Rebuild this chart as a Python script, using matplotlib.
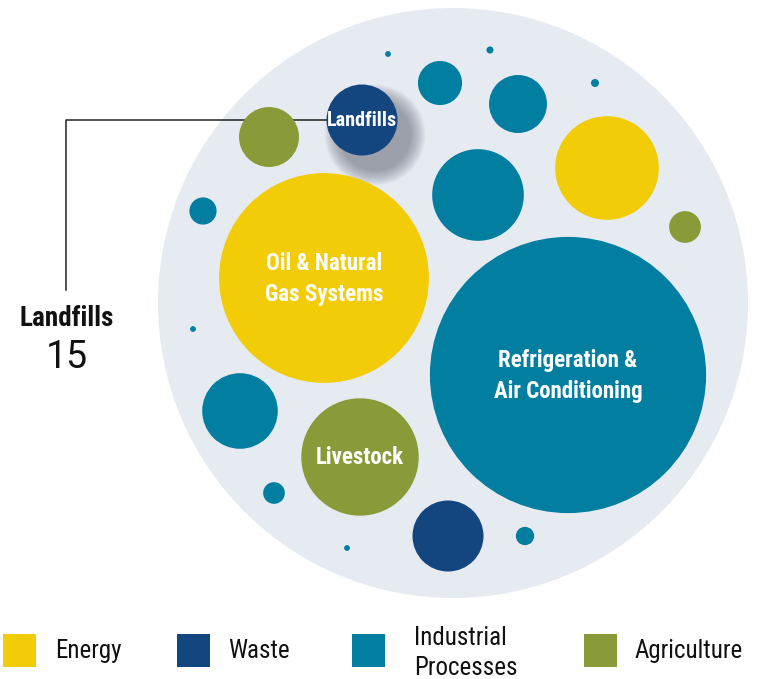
import matplotlib
matplotlib.use("Agg")
import matplotlib.pyplot as plt
from matplotlib.patches import Circle, Rectangle
from matplotlib import font_manager
import numpy as np

# ---------------- data ----------------
sectors = ["Energy", "Waste", "Industrial\nProcesses", "Agriculture"]
sector_colors = ["#F2CD07", "#13467F", "#027EA1", "#899A38"]

# each bubble: sector index, value (MtCO2e-like), label
bubble_sector = [2, 2, 2, 2, 2, 1, 3, 0, 2, 2, 3, 0, 2, 2, 2, 3, 2, 1, 2, 2]
bubble_value = [0.1, 0.15, 5.8, 10, 0.19, 15, 10.7, 32, 25, 2.2, 3.0,
                131, 0.1, 227, 17, 41, 1.4, 15, 1.0, 0.1]
bubble_label = ["", "", "", "", "", "Landfills", "", "", "", "", "",
                "Oil & Natural\nGas Systems", "", "Refrigeration &\nAir Conditioning",
                "", "Livestock", "", "", "", ""]
highlight_name = "Landfills"
highlight_value = 15

# layout (packing positions of bubble centres, pixels)
cx = [388, 490, 440, 518, 595, 362, 269, 607, 478, 203, 685, 324, 193, 568, 240, 360, 274, 448, 525, 347]
cy = [54, 50, 83, 104, 83, 120, 137, 168, 195, 211, 227, 278, 329, 375, 411, 457, 493, 536, 536, 548]

# ---------------- font ----------------
avail = {f.name for f in font_manager.fontManager.ttflist}
cond = None
for cand in ["Liberation Sans Narrow", "Roboto Condensed", "Open Sans Condensed", "Noto Sans"]:
    if cand in avail:
        cond = cand
        break
if cond is None:
    cond = "DejaVu Sans"
plt.rcParams["font.family"] = [cond, "DejaVu Sans"]
light_font = "Roboto" if "Roboto" in avail else "DejaVu Sans"

W, H = 759, 679
fig = plt.figure(figsize=(W / 100, H / 100), dpi=100)
ax = fig.add_axes([0, 0, 1, 1])
ax.set_xlim(0, W)
ax.set_ylim(H, 0)
ax.set_aspect("equal")
ax.axis("off")

# background circle
ax.add_patch(Circle((453, 303), 295, facecolor="#E6EBF2", edgecolor="none", zorder=0))

REF_R = 35.5  # radius of value-15 bubble
def radius(v):
    return REF_R * np.sqrt(v / 15.0)

# callout line
hi = bubble_label.index(highlight_name)
hr = radius(bubble_value[hi])
ax.plot([cx[hi] - hr, 66, 66], [cy[hi], cy[hi], 290], color="#222222", lw=1.1, zorder=1)

# soft drop shadow for highlighted bubble (offset to lower right)
for k in range(16):
    rr = hr + k * 1.0
    ax.add_patch(Circle((cx[hi] + 13, cy[hi] + 15), rr, facecolor="#5d6270",
                        edgecolor="none", alpha=0.045, zorder=1.5))

for i, (s, v, lab) in enumerate(zip(bubble_sector, bubble_value, bubble_label)):
    r = radius(v)
    ax.add_patch(Circle((cx[i], cy[i]), r, facecolor=sector_colors[s], edgecolor="none",
                        zorder=3 if i == hi else 2))
    if lab:
        fs = 14.5 if i == hi else 16.5
        ax.text(cx[i], cy[i] + 1, lab, ha="center", va="center", color="white",
                fontsize=fs, fontweight="bold", linespacing=1.4, zorder=4)

ax.text(67, 318, highlight_name, ha="center", va="center", fontsize=19.5,
        fontweight="bold", color="#111111")
ax.text(67, 357, str(highlight_value), ha="center", va="center", fontsize=27,
        color="#111111", fontfamily=[light_font, "DejaVu Sans"], fontweight="normal")

# legend
leg_x = [3, 177, 352, 584]
txt_x = [55, 228, 414, 635]
for i, (name, col) in enumerate(zip(sectors, sector_colors)):
    ax.add_patch(Rectangle((leg_x[i], 634), 33, 33, facecolor=col, edgecolor="none"))
    ty = 653 if "\n" in name else 651
    ax.text(txt_x[i], ty, name, ha="left", va="center", fontsize=18,
            color="#111111", linespacing=1.35)

fig.savefig("out.png", dpi=100)
